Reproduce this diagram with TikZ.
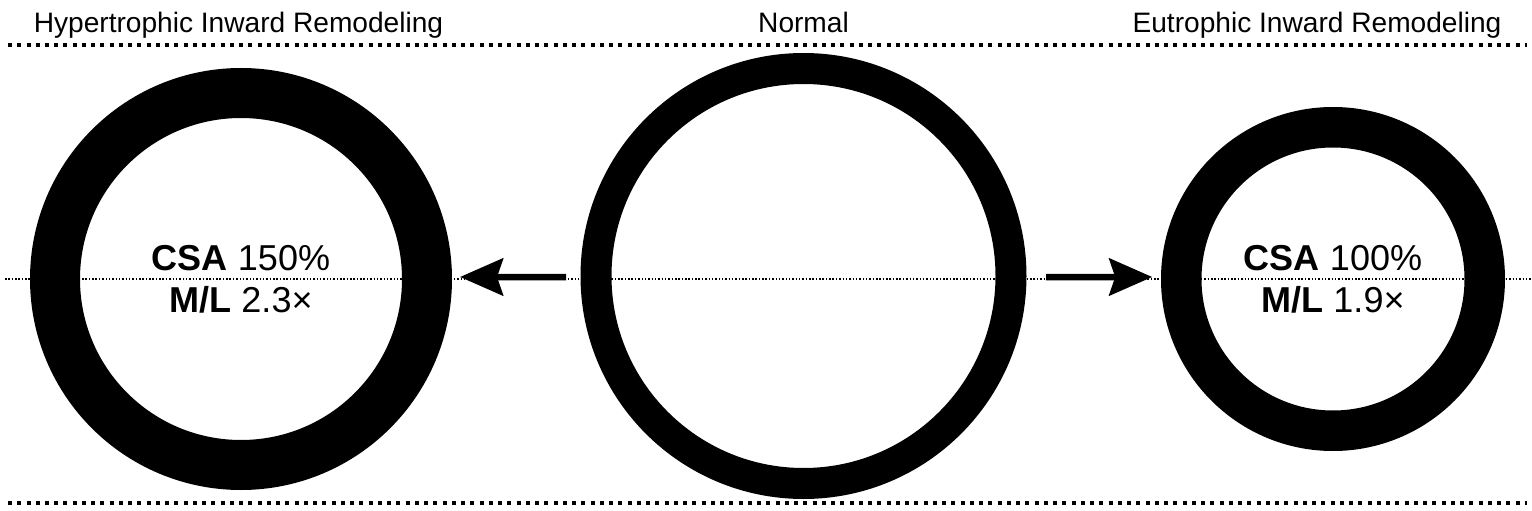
\documentclass[tikz,border=0pt]{standalone}
\usepackage{fontspec}
\setmainfont{Liberation Sans}
\usetikzlibrary{arrows.meta}

\begin{document}
\begin{tikzpicture}[
    ring/.style={circle, draw=black, outer sep=0pt, inner sep=0pt},
    title/.style={anchor=base, font=\fontsize{16}{19}\selectfont},
    value/.style={anchor=base, font=\fontsize{20.5}{24}\selectfont},
    bigdots/.style={line width=0.08cm, dash pattern=on 0.08cm off 0.105cm},
    smalldots/.style={line width=0.03cm, dash pattern=on 0.03cm off 0.037cm},
    shiftarrow/.style={line width=0.13cm, -{Stealth[length=0.86cm, width=0.74cm, inset=0.12cm]}}
  ]
        \useasboundingbox (0,0) rectangle (30.64,-10.22);
        % \draw[help lines, gray!50, very thin] (0,0) grid (30,-10);

        \draw[bigdots] (0.16,-0.9) -- (30.54,-0.9);
        \draw[bigdots] (0.16,-10.06) -- (30.54,-10.06);
        \draw[smalldots] (0.1,-5.58) -- (30.64,-5.58);

        \node[title] (hypertitle) at (4.77,-0.66) {Hypertrophic Inward Remodeling};
        \node[title] (normtitle) at (16.07,-0.66) {Normal};
        \node[title] (eutrotitle) at (26.34,-0.66) {Eutrophic Inward Remodeling};

        \node[ring, line width=1.0cm, minimum size=7.44cm] (hyper) at (4.82,-5.58) {};
        \node[ring, line width=0.62cm, minimum size=8.3cm] (normal) at (16.07,-5.52) {};
        \node[ring, line width=0.81cm, minimum size=6.07cm] (eutro) at (26.66,-5.58) {};

        \node[value] (hypercsa) at ([yshift=0.18cm]hyper.center) {\textbf{CSA} 150\%};
        \node[value] (hyperml) at ([yshift=-0.66cm]hyper.center) {\textbf{M/L} 2.3×};
        \node[value] (eutrocsa) at ([yshift=0.18cm]eutro.center) {\textbf{CSA} 100\%};
        \node[value] (eutroml) at ([yshift=-0.66cm]eutro.center) {\textbf{M/L} 1.9×};

        \draw[shiftarrow, shorten <=0.6cm, shorten >=0.66cm] ([yshift=-0.02cm]normal.west) -- ([yshift=0.04cm]hyper.east);
        \draw[shiftarrow, shorten <=0.7cm, shorten >=0.58cm] ([yshift=-0.02cm]normal.east) -- ([yshift=0.04cm]eutro.west);
      \end{tikzpicture}
\end{document}
